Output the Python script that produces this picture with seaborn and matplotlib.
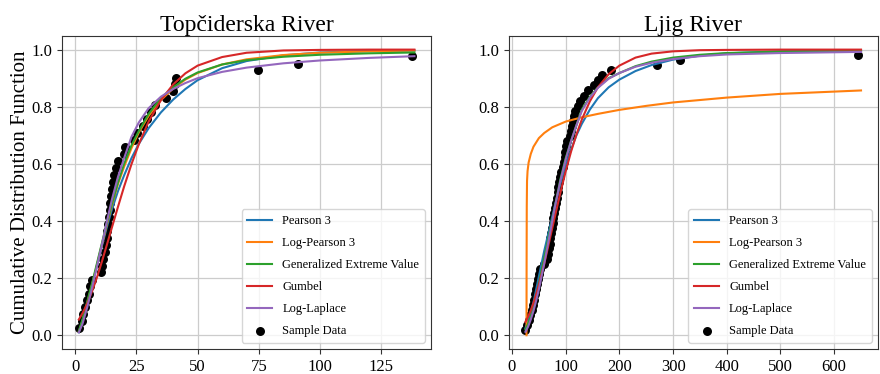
import matplotlib
matplotlib.use("Agg")
import matplotlib.pyplot as plt
import seaborn as sns

# ---------------- Topčiderska River ----------------
topc_sample_q = [1.7, 2.6, 3.4, 4.0, 4.7, 5.7, 6.2, 6.9, 10.4, 11.0,
                 11.5, 12.0, 12.4, 12.8, 13.2, 13.5, 13.8, 14.1, 14.4, 14.8,
                 15.1, 15.4, 15.7, 16.5, 17.5, 19.8, 20.5, 23.9, 25.3, 27.9,
                 29.5, 31.0, 32.5, 37.0, 40.0, 40.8, 41.2, 74.5, 91.0, 137.5]
topc_sample_cdf = [0.024, 0.049, 0.073, 0.098, 0.122, 0.146, 0.171, 0.195, 0.220, 0.244,
                   0.268, 0.293, 0.317, 0.341, 0.366, 0.390, 0.415, 0.439, 0.463, 0.488,
                   0.512, 0.537, 0.561, 0.585, 0.610, 0.634, 0.659, 0.683, 0.707, 0.732,
                   0.756, 0.780, 0.805, 0.829, 0.854, 0.878, 0.902, 0.927, 0.951, 0.976]

topc_q = [1.5, 3, 5, 7, 9, 11, 13, 15, 17.5, 20, 23, 26, 30, 35, 40, 45, 50,
          60, 70, 85, 100, 120, 138.5]
topc_pearson3 = [0.010, 0.050, 0.110, 0.178, 0.245, 0.315, 0.380, 0.440, 0.505, 0.560,
                 0.620, 0.670, 0.725, 0.780, 0.825, 0.862, 0.893, 0.935, 0.960, 0.980,
                 0.990, 0.995, 0.997]
topc_logpearson3 = [0.012, 0.050, 0.115, 0.180, 0.250, 0.320, 0.390, 0.455, 0.530, 0.590,
                    0.655, 0.710, 0.768, 0.823, 0.864, 0.895, 0.918, 0.948, 0.966, 0.981,
                    0.989, 0.994, 0.997]
topc_gev = [0.015, 0.055, 0.120, 0.185, 0.255, 0.325, 0.395, 0.460, 0.535, 0.600,
            0.665, 0.715, 0.775, 0.830, 0.868, 0.898, 0.920, 0.948, 0.963, 0.975,
            0.982, 0.987, 0.990]
topc_gumbel = [0.055, 0.077, 0.112, 0.156, 0.205, 0.260, 0.318, 0.377, 0.450, 0.521,
               0.599, 0.669, 0.748, 0.823, 0.878, 0.917, 0.944, 0.974, 0.989, 0.997,
               0.999, 1.000, 1.000]
topc_loglaplace = [0.010, 0.040, 0.100, 0.170, 0.245, 0.320, 0.400, 0.475, 0.555, 0.620,
                   0.695, 0.745, 0.795, 0.835, 0.862, 0.883, 0.900, 0.922, 0.937, 0.952,
                   0.962, 0.971, 0.977]

# ---------------- Ljig River ----------------
ljig_sample_q = [25, 28, 31, 34, 37, 39, 41, 43.5, 45, 46.5,
                 48, 50, 53, 60, 66, 67.5, 69, 70, 71.5, 73,
                 74, 75.5, 77, 78.5, 80, 82, 84, 85.5, 86.5, 88,
                 90, 92, 95, 97, 98, 99, 100, 103, 108, 110,
                 111.5, 113, 115, 118, 123, 127, 135, 142, 152, 160,
                 168, 185, 270, 313, 645]
ljig_sample_cdf = [0.018, 0.036, 0.054, 0.071, 0.089, 0.107, 0.125, 0.143, 0.161, 0.179,
                   0.196, 0.214, 0.232, 0.250, 0.268, 0.286, 0.304, 0.321, 0.339, 0.357,
                   0.375, 0.393, 0.411, 0.429, 0.446, 0.464, 0.482, 0.500, 0.518, 0.536,
                   0.554, 0.571, 0.589, 0.607, 0.625, 0.643, 0.661, 0.679, 0.696, 0.714,
                   0.732, 0.750, 0.768, 0.786, 0.804, 0.821, 0.839, 0.857, 0.875, 0.893,
                   0.911, 0.929, 0.946, 0.964, 0.982]

ljig_q = [25, 30, 35, 40, 45, 50, 55, 60, 65, 70, 75, 80, 90, 100, 110, 120, 130,
          145, 160, 180, 200, 230, 260, 300, 350, 400, 500, 650]
ljig_pearson3 = [0.025, 0.050, 0.080, 0.115, 0.160, 0.205, 0.250, 0.295, 0.335, 0.375,
                 0.415, 0.455, 0.530, 0.595, 0.650, 0.700, 0.740, 0.790, 0.830, 0.868,
                 0.895, 0.925, 0.946, 0.965, 0.979, 0.987, 0.994, 0.997]
ljig_gev = [0.020, 0.040, 0.065, 0.095, 0.135, 0.180, 0.225, 0.270, 0.315, 0.360,
            0.405, 0.450, 0.545, 0.620, 0.680, 0.735, 0.790, 0.835, 0.868, 0.900,
            0.918, 0.942, 0.958, 0.972, 0.982, 0.988, 0.993, 0.996]
ljig_gumbel = [0.047, 0.065, 0.087, 0.113, 0.143, 0.176, 0.213, 0.251, 0.291, 0.333,
               0.375, 0.416, 0.498, 0.574, 0.643, 0.703, 0.755, 0.819, 0.868, 0.914,
               0.944, 0.972, 0.986, 0.994, 0.998, 0.999, 1.000, 1.000]
ljig_loglaplace = [0.012, 0.030, 0.055, 0.085, 0.120, 0.160, 0.205, 0.250, 0.300, 0.350,
                   0.400, 0.450, 0.540, 0.615, 0.680, 0.735, 0.785, 0.832, 0.866, 0.898,
                   0.918, 0.940, 0.954, 0.967, 0.977, 0.983, 0.988, 0.992]
# the log-Pearson 3 fit rises almost vertically near its lower bound
ljig_lp3_q = [27, 27.2, 27.5, 28, 29, 31, 35, 40, 50, 60, 75, 100, 130, 160, 200,
              250, 300, 400, 500, 650]
ljig_logpearson3 = [0.000, 0.250, 0.450, 0.540, 0.575, 0.605, 0.635, 0.660, 0.690, 0.708,
                    0.728, 0.748, 0.763, 0.775, 0.789, 0.803, 0.815, 0.832, 0.845, 0.857]

plt.rcParams["font.family"] = ["Liberation Serif", "DejaVu Serif"]

fig = plt.figure(figsize=(8.8, 3.74), dpi=100)
ax_l = fig.add_axes([0.0705, 0.067, 0.4195, 0.837])
ax_r = fig.add_axes([0.578, 0.067, 0.4195, 0.837])

colors = {"Pearson 3": "#1f77b4", "Log-Pearson 3": "#ff7f0e",
          "Generalized Extreme Value": "#2ca02c", "Gumbel": "#d62728",
          "Log-Laplace": "#9467bd"}


def draw_panel(ax, title, curves, sample_q, sample_cdf):
    for name, xs, ys in curves:
        sns.lineplot(x=xs, y=ys, ax=ax, color=colors[name], label=name,
                     linewidth=1.5, estimator=None, sort=False)
    sns.scatterplot(x=sample_q, y=sample_cdf, ax=ax, color="black", s=42,
                    linewidth=0, label="Sample Data", zorder=1)
    ax.set_title(title, fontsize=17, pad=3)
    ax.grid(True, color="#cccccc", linewidth=0.9)
    ax.set_axisbelow(True)
    ax.set_ylim(-0.048, 1.048)
    ax.set_yticks([0.0, 0.2, 0.4, 0.6, 0.8, 1.0])
    ax.tick_params(labelsize=12, length=3.5, color="#333333")
    for sp in ax.spines.values():
        sp.set_color("#333333")
    ax.legend(loc="lower right", fontsize=9, framealpha=0.8,
              edgecolor="#cccccc", borderpad=0.45, labelspacing=0.8,
              handletextpad=0.8)
    ax.set_xlabel("")
    ax.set_ylabel("")


draw_panel(ax_l, "Topčiderska River",
           [("Pearson 3", topc_q, topc_pearson3),
            ("Log-Pearson 3", topc_q, topc_logpearson3),
            ("Generalized Extreme Value", topc_q, topc_gev),
            ("Gumbel", topc_q, topc_gumbel),
            ("Log-Laplace", topc_q, topc_loglaplace)],
           topc_sample_q, topc_sample_cdf)
ax_l.set_xlim(-5.35, 145.35)
ax_l.set_xticks([0, 25, 50, 75, 100, 125])
ax_l.set_ylabel("Cumulative Distribution Function", fontsize=15, labelpad=1)

draw_panel(ax_r, "Ljig River",
           [("Pearson 3", ljig_q, ljig_pearson3),
            ("Log-Pearson 3", ljig_lp3_q, ljig_logpearson3),
            ("Generalized Extreme Value", ljig_q, ljig_gev),
            ("Gumbel", ljig_q, ljig_gumbel),
            ("Log-Laplace", ljig_q, ljig_loglaplace)],
           ljig_sample_q, ljig_sample_cdf)
ax_r.set_xlim(-6.25, 681.25)
ax_r.set_xticks([0, 100, 200, 300, 400, 500, 600])

fig.savefig("out.png", dpi=100)
